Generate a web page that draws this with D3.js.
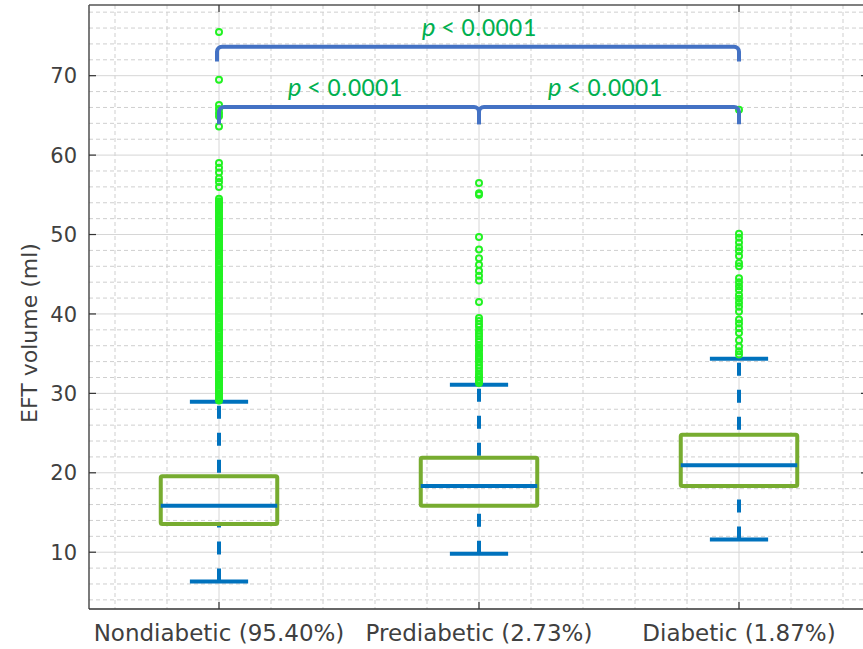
<!DOCTYPE html>
<html>
<head>
<meta charset="utf-8">
<script src="https://cdn.jsdelivr.net/npm/d3@7"></script>
<style>
  body { margin: 0; background: #fff; }
  svg { display: block; }
</style>
</head>
<body>
<script>
// define constants
const svgWidth = 863;
const svgHeight = 649;
const plotLeft = 89;
const plotRight = 869;   // right edge of the axes sits just past the picture
const plotTop = 5;
const plotBottom = 609;

// chart data
const categories = ['Nondiabetic (95.40%)', 'Prediabetic (2.73%)', 'Diabetic (1.87%)'];
const whiskerLow = [6.3, 9.8, 11.6];
const q1 = [13.55, 15.85, 18.35];
const medians = [15.85, 18.35, 20.95];
const q3 = [19.55, 21.9, 24.8];
const whiskerHigh = [28.95, 31.1, 34.35];

const outliersNondiabetic = [75.5, 69.5, 66.3, 65.8, 65.3, 64.9, 63.6,
  59.0, 58.4, 57.8, 57.1, 56.6, 56.0,
  54.5, 54.2, 54.0, 53.8, 53.6, 53.4, 53.1, 52.9, 52.6, 52.3, 52.1, 51.9, 51.6, 51.4,
  51.1, 50.9, 50.7, 50.4, 50.2, 49.9, 49.7, 49.5, 49.2, 49.0, 48.7, 48.5, 48.3, 48.1,
  47.9, 47.6, 47.4, 47.1, 46.9, 46.6, 46.3, 46.1, 45.9, 45.6, 45.4, 45.1, 44.9, 44.7,
  44.4, 44.2, 43.9, 43.7, 43.5, 43.3, 43.1, 42.8, 42.6, 42.3, 42.1, 41.8, 41.6, 41.5,
  41.3, 41.1, 40.8, 40.6, 40.3, 40.1, 39.9, 39.6, 39.4, 39.1, 38.9, 38.7, 38.4, 38.2,
  37.9, 37.7, 37.5, 37.2, 37.0, 36.7, 36.5, 36.3, 36.0, 35.8, 35.5, 35.3, 35.1, 34.8,
  34.6, 34.3, 34.1, 33.9, 33.6, 33.4, 33.1, 32.9, 32.7, 32.4, 32.2, 31.9, 31.7, 31.5,
  31.2, 31.0, 30.7, 30.5, 30.3, 30.0, 29.8, 29.5, 29.3, 29.1];
const outliersPrediabetic = [56.5, 55.2, 55.0, 49.7, 48.1, 47.0, 46.2, 45.4, 44.8, 44.2,
  41.5, 39.5, 39.1, 38.7, 38.4, 37.9, 37.5, 37.2, 36.8, 36.5, 36.1, 35.8, 35.6, 35.4, 35.0,
  34.7, 34.5, 34.3, 33.9, 33.5, 33.2, 32.8, 32.4, 32.2, 32.0, 31.7, 31.5, 31.3];
const outliersDiabetic = [65.7, 50.1, 49.6, 49.0, 48.4, 47.9, 47.3, 46.4, 46.0, 44.5,
  44.0, 43.5, 43.0, 42.4, 41.9, 41.4, 40.9, 40.3, 39.3, 38.8, 38.2, 37.6, 36.7, 35.9,
  35.3, 34.9];
const outliers = [outliersNondiabetic, outliersPrediabetic, outliersDiabetic];

// significance brackets: from group, to group, bar level, leg end
const bracketFrom = [1, 1, 2];
const bracketTo = [3, 2, 3];
const bracketTop = [73.65, 66.05, 66.05];
const bracketLeg = [71.8, 63.9, 63.9];
const bracketLabel = ['< 0.0001', '< 0.0001', '< 0.0001'];

const yTicks = [10, 20, 30, 40, 50, 60, 70];
const yAxisLabel = 'EFT volume (ml)';

// colours
const boxColor = '#77AC30';
const whiskerColor = '#0072BD';
const outlierColor = '#22F222';
const bracketColor = '#4472C4';
const pColor = '#00B050';
const axisColor = '#333333';
const textColor = '#404040';

var svg = d3.select('body')
            .append('svg')
            .attr('width', svgWidth)
            .attr('height', svgHeight);

// scales
const xScale = d3.scaleLinear()
                 .domain([0.5, 3.5])
                 .range([plotLeft, plotRight]);

const yScale = d3.scaleLinear()
                 .domain([2.85, 78.9])
                 .range([plotBottom, plotTop]);

// minor grid (dashed)
const yMinor = d3.range(4, 79, 2).filter(v => v % 10 !== 0);
const xMinor = d3.range(0.6, 3.45, 0.2).filter(v => Math.abs(v - Math.round(v)) > 0.05);

svg.append('g')
   .selectAll('line')
   .data(yMinor)
   .enter()
   .append('line')
   .attr('x1', plotLeft)
   .attr('x2', plotRight)
   .attr('y1', d => yScale(d))
   .attr('y2', d => yScale(d))
   .attr('stroke', '#cfcfcf')
   .attr('stroke-width', 1)
   .attr('stroke-dasharray', '4,3');

svg.append('g')
   .selectAll('line')
   .data(xMinor)
   .enter()
   .append('line')
   .attr('x1', d => xScale(d))
   .attr('x2', d => xScale(d))
   .attr('y1', plotTop)
   .attr('y2', plotBottom)
   .attr('stroke', '#cfcfcf')
   .attr('stroke-width', 1)
   .attr('stroke-dasharray', '4,3');

// major grid
svg.append('g')
   .selectAll('line')
   .data(yTicks)
   .enter()
   .append('line')
   .attr('x1', plotLeft)
   .attr('x2', plotRight)
   .attr('y1', d => yScale(d))
   .attr('y2', d => yScale(d))
   .attr('stroke', '#d6d6d6')
   .attr('stroke-width', 1);

svg.append('g')
   .selectAll('line')
   .data(categories)
   .enter()
   .append('line')
   .attr('x1', (d, i) => xScale(i + 1))
   .attr('x2', (d, i) => xScale(i + 1))
   .attr('y1', plotTop)
   .attr('y2', plotBottom)
   .attr('stroke', '#d6d6d6')
   .attr('stroke-width', 1);

// boxplots
const boxHalf = 0.224;
const capHalf = 0.112;
const groups = svg.append('g')
                  .selectAll('g')
                  .data(categories)
                  .enter()
                  .append('g');

// dashed whiskers
groups.append('line')
      .attr('x1', (d, i) => xScale(i + 1))
      .attr('x2', (d, i) => xScale(i + 1))
      .attr('y1', (d, i) => yScale(whiskerHigh[i]))
      .attr('y2', (d, i) => yScale(q3[i]))
      .attr('stroke', whiskerColor)
      .attr('stroke-width', 4)
      .attr('stroke-dasharray', '13,14')
      .attr('stroke-dashoffset', -4);

groups.append('line')
      .attr('x1', (d, i) => xScale(i + 1))
      .attr('x2', (d, i) => xScale(i + 1))
      .attr('y1', (d, i) => yScale(whiskerLow[i]))
      .attr('y2', (d, i) => yScale(q1[i]))
      .attr('stroke', whiskerColor)
      .attr('stroke-width', 4)
      .attr('stroke-dasharray', '13,14')
      .attr('stroke-dashoffset', 0);

// whisker caps
[whiskerLow, whiskerHigh].forEach(arr => {
  groups.append('line')
        .attr('x1', (d, i) => xScale(i + 1 - capHalf))
        .attr('x2', (d, i) => xScale(i + 1 + capHalf))
        .attr('y1', (d, i) => yScale(arr[i]))
        .attr('y2', (d, i) => yScale(arr[i]))
        .attr('stroke', whiskerColor)
        .attr('stroke-width', 4);
});

// box
groups.append('rect')
      .attr('x', (d, i) => xScale(i + 1 - boxHalf))
      .attr('y', (d, i) => yScale(q3[i]))
      .attr('width', xScale(1 + boxHalf) - xScale(1 - boxHalf))
      .attr('height', (d, i) => yScale(q1[i]) - yScale(q3[i]))
      .attr('rx', 1.5)
      .attr('fill', 'none')
      .attr('stroke', boxColor)
      .attr('stroke-width', 4);

// median
groups.append('line')
      .attr('x1', (d, i) => xScale(i + 1 - boxHalf))
      .attr('x2', (d, i) => xScale(i + 1 + boxHalf))
      .attr('y1', (d, i) => yScale(medians[i]))
      .attr('y2', (d, i) => yScale(medians[i]))
      .attr('stroke', whiskerColor)
      .attr('stroke-width', 4);

// outliers
groups.each(function(d, i) {
  d3.select(this)
    .selectAll('circle')
    .data(outliers[i])
    .enter()
    .append('circle')
    .attr('cx', xScale(i + 1))
    .attr('cy', v => yScale(v))
    .attr('r', 3)
    .attr('fill', 'none')
    .attr('stroke', outlierColor)
    .attr('stroke-width', 2);
});

// brackets
const corner = 5;
svg.append('g')
   .selectAll('path')
   .data(bracketTop)
   .enter()
   .append('path')
   .attr('d', (d, i) => {
     const x1 = xScale(bracketFrom[i]) - (i === 0 ? 2 : 0);
     const x2 = xScale(bracketTo[i]);
     const yt = yScale(bracketTop[i]);
     const yl = yScale(bracketLeg[i]);
     const p = d3.path();
     p.moveTo(x1, yl);
     p.lineTo(x1, yt + corner);
     p.arcTo(x1, yt, x1 + corner, yt, corner);
     p.lineTo(x2 - corner, yt);
     p.arcTo(x2, yt, x2, yt + corner, corner);
     p.lineTo(x2, yl);
     return p.toString();
   })
   .attr('fill', 'none')
   .attr('stroke', bracketColor)
   .attr('stroke-width', 4);

const pText = svg.append('g')
                 .selectAll('text')
                 .data(bracketLabel)
                 .enter()
                 .append('text')
                 .attr('x', (d, i) => xScale((bracketFrom[i] + bracketTo[i]) / 2) - (i === 0 ? 0 : 4))
                 .attr('y', (d, i) => yScale(bracketTop[i]) - 11)
                 .attr('text-anchor', 'middle')
                 .attr('font-family', 'Carlito, Lato, sans-serif')
                 .attr('font-size', 26)
                 .attr('letter-spacing', 0.4)
                 .attr('fill', pColor);
pText.append('tspan').attr('font-style', 'italic').text('p');
pText.append('tspan').text(d => ' ' + d);

// axes box and ticks
svg.append('line')
   .attr('x1', plotLeft).attr('x2', plotLeft)
   .attr('y1', plotTop).attr('y2', plotBottom)
   .attr('stroke', axisColor).attr('stroke-width', 1.3);
svg.append('line')
   .attr('x1', plotLeft).attr('x2', plotRight)
   .attr('y1', plotBottom).attr('y2', plotBottom)
   .attr('stroke', axisColor).attr('stroke-width', 1.3);
svg.append('line')
   .attr('x1', plotLeft).attr('x2', plotRight)
   .attr('y1', plotTop).attr('y2', plotTop)
   .attr('stroke', '#555').attr('stroke-width', 1.3);

// y ticks inward on both sides
svg.append('g')
   .selectAll('line')
   .data(yTicks)
   .enter()
   .append('line')
   .attr('x1', plotLeft).attr('x2', plotLeft + 7)
   .attr('y1', d => yScale(d)).attr('y2', d => yScale(d))
   .attr('stroke', axisColor).attr('stroke-width', 1.2);
svg.append('g')
   .selectAll('line')
   .data(yTicks)
   .enter()
   .append('line')
   .attr('x1', plotRight - 8).attr('x2', plotRight)
   .attr('y1', d => yScale(d)).attr('y2', d => yScale(d))
   .attr('stroke', axisColor).attr('stroke-width', 1.2);

// x ticks inward on top and bottom
svg.append('g')
   .selectAll('line')
   .data(categories)
   .enter()
   .append('line')
   .attr('x1', (d, i) => xScale(i + 1)).attr('x2', (d, i) => xScale(i + 1))
   .attr('y1', plotBottom).attr('y2', plotBottom - 7)
   .attr('stroke', axisColor).attr('stroke-width', 1.2);
svg.append('g')
   .selectAll('line')
   .data(categories)
   .enter()
   .append('line')
   .attr('x1', (d, i) => xScale(i + 1)).attr('x2', (d, i) => xScale(i + 1))
   .attr('y1', plotTop).attr('y2', plotTop + 7)
   .attr('stroke', axisColor).attr('stroke-width', 1.2);

// tick labels
svg.append('g')
   .selectAll('text')
   .data(yTicks)
   .enter()
   .append('text')
   .attr('x', plotLeft - 12)
   .attr('y', d => yScale(d))
   .attr('dy', '0.36em')
   .attr('text-anchor', 'end')
   .attr('font-family', 'DejaVu Sans, sans-serif')
   .attr('font-size', 21)
   .attr('fill', textColor)
   .text(d => d);

svg.append('g')
   .selectAll('text')
   .data(categories)
   .enter()
   .append('text')
   .attr('x', (d, i) => xScale(i + 1))
   .attr('y', 641)
   .attr('text-anchor', 'middle')
   .attr('font-family', 'DejaVu Sans, sans-serif')
   .attr('font-size', 23)
   .attr('fill', textColor)
   .text(d => d);

// y axis title
svg.append('text')
   .attr('transform', 'translate(37,' + 333 + ') rotate(-90)')
   .attr('text-anchor', 'middle')
   .attr('font-family', 'DejaVu Sans, sans-serif')
   .attr('font-size', 22)
   .attr('fill', textColor)
   .text(yAxisLabel);
</script>
</body>
</html>
